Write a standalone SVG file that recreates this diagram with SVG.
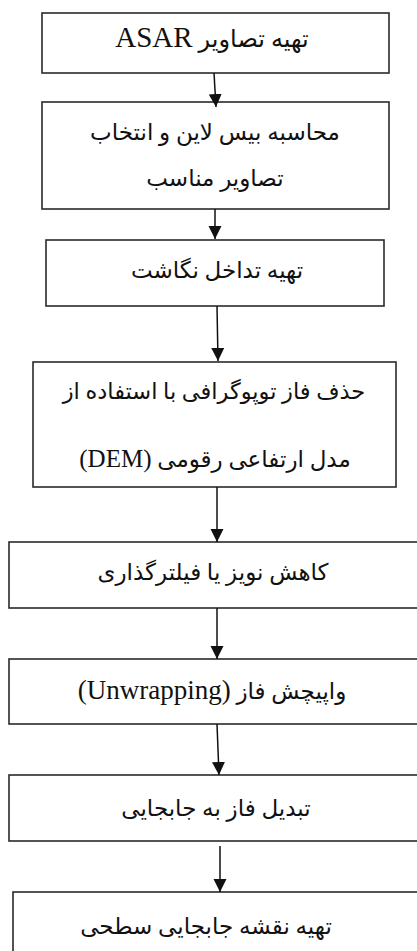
<svg xmlns="http://www.w3.org/2000/svg" width="417" height="951" viewBox="0 0 417 951">
<style>
.box{fill:#fff;stroke:#2a2a2a;stroke-width:1.6}
.lbl{font-family:"Liberation Serif","DejaVu Sans",serif;font-size:23px;fill:#111;text-anchor:middle;direction:rtl}
.conn{stroke:#111;stroke-width:1.5;fill:none}
</style>
<defs>
<marker id="ah" markerUnits="userSpaceOnUse" markerWidth="13" markerHeight="16" refX="13" refY="6.5" orient="auto" viewBox="0 0 13 13">
<path d="M0,0 L13,6.5 L0,13 Z" fill="#111"/>
</marker>
</defs>
<rect width="417" height="951" fill="#fff"/>
<g id="n1"><rect class="box" x="42" y="13" width="347" height="60"/><text class="lbl" x="212" y="47" style="font-size:24px">تهیه تصاویر  <tspan style="font-size:29px">ASAR</tspan></text></g>
<g id="n2"><rect class="box" x="42" y="102" width="347" height="107"/><text class="lbl" x="215" y="140">محاسبه بیس لاین و انتخاب</text><text class="lbl" x="215" y="186">تصاویر مناسب</text></g>
<g id="n3"><rect class="box" x="46" y="240" width="338" height="66"/><text class="lbl" x="217" y="278">تهیه تداخل نگاشت</text></g>
<g id="n4"><rect class="box" x="33" y="362" width="363" height="125"/><text class="lbl" x="214" y="399" style="font-size:22.5px">حذف فاز توپوگرافی با استفاده از</text><text class="lbl" x="215" y="467">مدل ارتفاعی رقومی <tspan style="font-size:25px">(DEM)</tspan></text></g>
<g id="n5"><rect class="box" x="9" y="542" width="420" height="66"/><text class="lbl" x="213" y="580">کاهش نویز یا فیلترگذاری</text></g>
<g id="n6"><rect class="box" x="9" y="659" width="420" height="65"/><text class="lbl" x="212" y="699">واپیچش فاز <tspan style="font-size:27px">(Unwrapping)</tspan></text></g>
<g id="n7"><rect class="box" x="9" y="775" width="420" height="66"/><text class="lbl" x="216" y="816">تبدیل فاز به جابجایی</text></g>
<g id="n8"><rect class="box" x="13" y="892" width="420" height="80"/><text class="lbl" x="206" y="934">تهیه نقشه جابجایی سطحی</text></g>
<g id="connectors">
<line class="conn" x1="214" y1="73" x2="216" y2="107" marker-end="url(#ah)"/>
<line class="conn" x1="215" y1="209" x2="215" y2="239" marker-end="url(#ah)"/>
<line class="conn" x1="217" y1="306" x2="218" y2="361" marker-end="url(#ah)"/>
<line class="conn" x1="217" y1="487" x2="217" y2="542" marker-end="url(#ah)"/>
<line class="conn" x1="217" y1="608" x2="217" y2="659" marker-end="url(#ah)"/>
<line class="conn" x1="217" y1="724" x2="219" y2="775" marker-end="url(#ah)"/>
<line class="conn" x1="220" y1="846" x2="220" y2="892" marker-end="url(#ah)"/>
</g>
</svg>
